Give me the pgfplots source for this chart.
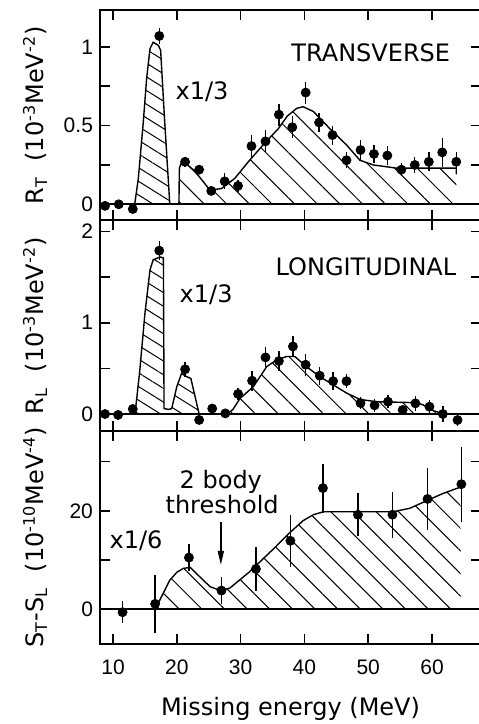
\documentclass[border=0pt]{standalone}
\usepackage{pgfplots}
\pgfplotsset{compat=1.18}
\usepackage{fontspec}
\setmainfont{DejaVu Sans}
\newfontfamily\tickfont{Liberation Sans}
\usetikzlibrary{patterns.meta,arrows.meta}

\pgfplotsset{
  panel/.style={
    scale only axis, width=190.5pt, xmin=7.96, xmax=67.68,
    xtick={10,20,30,40,50,60}, xticklabels={},
    axis line style={line width=1pt},
    major tick length=5pt,
    tick style={line width=0.8pt, black},
    tick label style={font=\tickfont\fontsize{10.5}{12}\selectfont},
    ylabel style={at={(axis description cs:-0.1706,0.5)}, anchor=center, font=\fontsize{12}{14}\selectfont},
    /pgf/number format/assume math mode=true,
  },
  pts/.style={only marks, mark=*, mark size=2.25pt, black,
    error bars/.cd, y dir=both, y explicit, error mark=none,
    error bar style={line width=0.7pt, black}},
  fit/.style={black, line width=0.7pt, no markers},
  zero/.style={black, line width=1pt, no markers, forget plot},
  hatchA/.style={draw=none, pattern={Lines[angle=-45,distance=8pt,line width=0.5pt]}},
  hatchB/.style={draw=none, pattern={Lines[angle=-32,distance=5.8pt,line width=0.5pt]}},
}

\begin{document}
\begin{tikzpicture}
% ---------------- Transverse ----------------
\begin{axis}[panel, name=p1, height=105.25pt, ymin=-0.103, ymax=1.235,
  ytick={0,0.25,0.5,0.75,1}, yticklabels={0,,0.5,,1},
  ylabel={R\textsubscript{T}\ \ (10\textsuperscript{-3}MeV\textsuperscript{-2})}]
\addplot[hatchB] coordinates {(13.4,0) (13.97,0.165) (14.75,0.525) (15.27,0.80) (15.8,0.99) (16.3,1.03) (17.1,1.01) (17.46,0.98) (18.1,0.525) (18.9,0.0)} \closedcycle;
\addplot[hatchA] coordinates {(20.33,0) (20.4,0.23) (20.85,0.28) (22.84,0.21) (25.2,0.09) (27.0,0.10) (29.1,0.165) (31.2,0.27) (33.8,0.39) (35.9,0.48) (37.3,0.56) (38.8,0.61) (39.8,0.62) (41.4,0.59) (44.0,0.48) (46.6,0.377) (48.7,0.28) (50.8,0.25) (54.4,0.23) (63.8,0.23) (63.8,0.19)} \closedcycle;
\addplot[fit] coordinates {(13.4,0) (13.97,0.165) (14.75,0.525) (15.27,0.80) (15.8,0.99) (16.3,1.03) (17.1,1.01) (17.46,0.98) (18.1,0.525) (18.9,0.0) (20.33,0) (20.4,0.23) (20.85,0.28) (22.84,0.21) (25.2,0.09) (27.0,0.10) (29.1,0.165) (31.2,0.27) (33.8,0.39) (35.9,0.48) (37.3,0.56) (38.8,0.61) (39.8,0.62) (41.4,0.59) (44.0,0.48) (46.6,0.377) (48.7,0.28) (50.8,0.25) (54.4,0.23) (63.8,0.23) (63.8,0.19)};
\addplot[zero] coordinates {(7.96,0) (67.68,0)};
\addplot[pts] table[x=x,y=y,y error=e] {
x y e
8.75 -0.01 0.01
10.9 0.0 0.01
13.1 -0.03 0.02
17.25 1.07 0.05
21.3 0.27 0.03
23.5 0.22 0.03
25.4 0.085 0.03
27.5 0.146 0.05
29.6 0.117 0.04
31.7 0.37 0.07
33.9 0.40 0.07
36.0 0.57 0.07
38.1 0.49 0.07
40.2 0.71 0.07
42.3 0.52 0.06
44.4 0.44 0.06
46.6 0.28 0.05
48.8 0.345 0.065
50.9 0.32 0.06
53.0 0.31 0.06
55.2 0.22 0.04
57.3 0.25 0.05
59.5 0.27 0.06
61.6 0.33 0.09
63.8 0.27 0.06
};
\node[anchor=base, font=\fontsize{12}{14}\selectfont] at (axis cs:50.4,0.906) {TRANSVERSE};
\node[anchor=base, font=\fontsize{12}{14}\selectfont] at (axis cs:23.95,0.667) {x1/3};
\end{axis}

% ---------------- Longitudinal ----------------
\begin{axis}[panel, name=p2, at={(p1.south west)}, anchor=north west,
  height=105.25pt, ymin=-0.186, ymax=2.12,
  ytick={0,0.5,1,1.5,2}, yticklabels={0,,1,,2},
  ylabel={R\textsubscript{L}\ \ (10\textsuperscript{-3}MeV\textsuperscript{-2})}]
\addplot[hatchB] coordinates {(13.45,0) (14.2,0.48) (15.0,1.1) (15.8,1.58) (16.3,1.69) (17.4,1.72) (17.9,1.71) (18.0,0.06) (18.7,0.05) (19.2,0.06) (20.0,0.30) (20.75,0.445) (21.5,0.41) (22.2,0.39) (23.5,0)} \closedcycle;
\addplot[hatchA] coordinates {(27.8,0) (28.8,0.05) (29.9,0.17) (32.0,0.30) (34.1,0.52) (35.6,0.59) (37.2,0.63) (38.5,0.63) (40.3,0.52) (42.4,0.41) (44.5,0.32) (46.6,0.23) (48.7,0.16) (51.3,0.135) (57.5,0.124) (58.6,0.1) (60.2,0.036) (61.7,0.007) (62.3,0)} \closedcycle;
\addplot[fit] coordinates {(13.45,0) (14.2,0.48) (15.0,1.1) (15.8,1.58) (16.3,1.69) (17.4,1.72) (17.9,1.71) (18.0,0.06) (18.7,0.05) (19.2,0.06) (20.0,0.30) (20.75,0.445) (21.5,0.41) (22.2,0.39) (23.5,0)};
\addplot[fit] coordinates {(27.8,0) (28.8,0.05) (29.9,0.17) (32.0,0.30) (34.1,0.52) (35.6,0.59) (37.2,0.63) (38.5,0.63) (40.3,0.52) (42.4,0.41) (44.5,0.32) (46.6,0.23) (48.7,0.16) (51.3,0.135) (57.5,0.124) (58.6,0.1) (60.2,0.036) (61.7,0.007) (62.3,0)};
\addplot[zero] coordinates {(7.96,0) (67.68,0)};
\addplot[pts] table[x=x,y=y,y error=e] {
x y e
8.75 0.0 0.02
10.8 -0.01 0.02
13.1 0.055 0.03
17.25 1.79 0.10
21.3 0.49 0.08
23.5 -0.065 0.04
25.55 0.06 0.03
27.6 0.007 0.03
29.6 0.22 0.07
31.8 0.365 0.11
33.9 0.62 0.11
36.0 0.58 0.11
38.2 0.74 0.12
40.2 0.54 0.12
42.4 0.42 0.10
44.5 0.36 0.10
46.6 0.36 0.08
48.8 0.12 0.07
51.0 0.095 0.07
53.1 0.135 0.07
55.4 0.044 0.05
57.4 0.117 0.08
59.6 0.08 0.07
61.7 0.0 0.09
64.0 -0.066 0.06
};
\node[anchor=base, font=\fontsize{12}{14}\selectfont] at (axis cs:49.65,1.52) {LONGITUDINAL};
\node[anchor=base, font=\fontsize{12}{14}\selectfont] at (axis cs:24.6,1.22) {x1/3};
\end{axis}

% ---------------- S_T - S_L ----------------
\begin{axis}[panel, name=p3, at={(p2.south west)}, anchor=north west,
  height=106.25pt, ymin=-6.95, ymax=36.2,
  ytick={0,10,20,30}, yticklabels={0,,20,},
  xticklabels={10,20,30,40,50,60},
  xticklabel style={yshift=-4.75pt},
  ylabel={S\textsubscript{T}-S\textsubscript{L}\ \ (10\textsuperscript{-10}MeV\textsuperscript{-4})},
  xlabel={Missing energy (MeV)},
  xlabel style={at={(axis description cs:0.5,-0.3365)}, anchor=base, font=\fontsize{12}{14}\selectfont}]
\addplot[hatchA] coordinates {(17.0,0) (17.1,1.2) (17.5,2.3) (18.9,5.9) (20.0,7.5) (21.0,8.3) (22.1,8.5) (23.6,6.6) (25.2,4.6) (26.8,3.8) (28.3,4.3) (29.9,6.0) (31.4,7.6) (33.0,9.6) (35.1,12.2) (37.5,15.3) (39.8,18.0) (41.4,19.2) (43.0,19.8) (53.9,19.8) (56.5,20.5) (59.1,22.0) (61.7,23.5) (63.8,24.5) (64.5,24.8)} \closedcycle;
\addplot[fit] coordinates {(17.0,0) (17.1,1.2) (17.5,2.3) (18.9,5.9) (20.0,7.5) (21.0,8.3) (22.1,8.5) (23.6,6.6) (25.2,4.6) (26.8,3.8) (28.3,4.3) (29.9,6.0) (31.4,7.6) (33.0,9.6) (35.1,12.2) (37.5,15.3) (39.8,18.0) (41.4,19.2) (43.0,19.8) (53.9,19.8) (56.5,20.5) (59.1,22.0) (61.7,23.5) (63.8,24.5) (64.5,24.8)};
\addplot[zero] coordinates {(7.96,0) (67.68,0)};
\addplot[pts] table[x=x,y=y,y error=e] {
x y e
11.5 -0.6 2.2
16.6 1.1 5.9
21.9 10.5 2.8
27.0 3.8 2.7
32.4 8.2 4.4
37.8 13.9 5.3
42.9 24.6 5.0
48.4 19.2 4.4
53.8 19.2 4.7
59.3 22.4 6.3
64.6 25.4 7.6
};
\draw[line width=0.8pt, -{Triangle[length=7pt,width=3pt]}] (axis cs:26.9,17.8) -- (axis cs:26.9,9.0);
\node[anchor=base, font=\fontsize{12}{14}\selectfont] at (axis cs:26.9,24.6) {2 body};
\node[anchor=base, font=\fontsize{12}{14}\selectfont] at (axis cs:27.1,19.5) {threshold};
\node[anchor=base, font=\fontsize{12}{14}\selectfont] at (axis cs:13.6,12.4) {x1/6};
\end{axis}

\pgfresetboundingbox
\path[use as bounding box] ([shift={(-50pt,5pt)}]p1.north west) rectangle ([shift={(189pt,-40.25pt)}]p3.south west);
\end{tikzpicture}
\end{document}
